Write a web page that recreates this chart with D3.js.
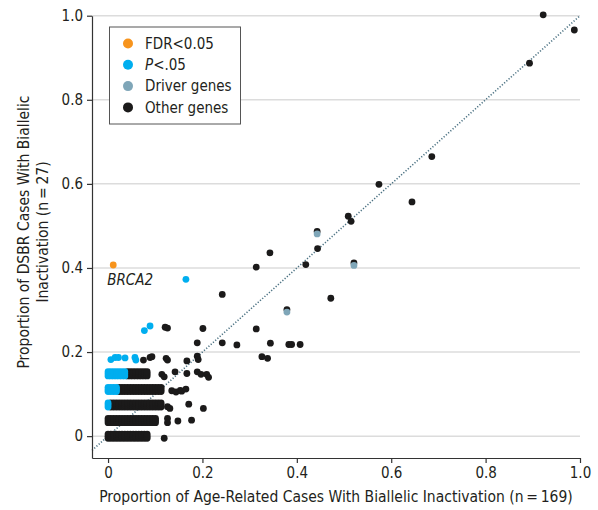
<!DOCTYPE html>
<html>
<head>
<meta charset="utf-8">
<script src="https://cdn.jsdelivr.net/npm/d3@7"></script>
<style>
  body { margin: 0; background: #fff; }
  svg text { font-family: "Liberation Sans Narrow", "DejaVu Sans Condensed", "Roboto Condensed", sans-serif; fill: #231f20; }
</style>
</head>
<body>
<div id="chart"></div>
<script>
// Data: proportions (x = age-related cases, n=169; y = DSBR cases, n=27)
const tickValues = [0, 0.2, 0.4, 0.6, 0.8, 1.0];
const tickLabels = ["0", "0.2", "0.4", "0.6", "0.8", "1.0"];

const legendItems = ["FDR<0.05", "P<.05", "Driver genes", "Other genes"];

// dense band of genes, one row per count of DSBR cases (k/27), x given as range of counts (/169)
const bandBlack = [
  { k: 0, from: 0, to: 14 },
  { k: 1, from: 0, to: 17 },
  { k: 2, from: 1, to: 19 },
  { k: 3, from: 4, to: 19 },
  { k: 4, from: 7, to: 14 }
];
const bandBlue = [
  { k: 2, from: 0, to: 0 },
  { k: 3, from: 0, to: 3 },
  { k: 4, from: 0, to: 6 }
];
const bandJitter = [-0.005, 0, 0.005];

const otherGenes = [
  [0.121, 0.259], [0.126, 0.257], [0.201, 0.256], [0.242, 0.337],
  [0.189, 0.222], [0.242, 0.222], [0.273, 0.217], [0.344, 0.221], [0.383, 0.218], [0.389, 0.218], [0.407, 0.218],
  [0.075, 0.181], [0.089, 0.187], [0.093, 0.189], [0.123, 0.185], [0.126, 0.181], [0.167, 0.179],
  [0.189, 0.190], [0.191, 0.182], [0.326, 0.189], [0.338, 0.185],
  [0.114, 0.147], [0.119, 0.141], [0.142, 0.153], [0.167, 0.149], [0.189, 0.153], [0.197, 0.147], [0.209, 0.147], [0.213, 0.140],
  [0.135, 0.108], [0.144, 0.105], [0.153, 0.109], [0.156, 0.107], [0.165, 0.112],
  [0.126, 0.070], [0.131, 0.066], [0.171, 0.076], [0.202, 0.066],
  [0.126, 0.042], [0.126, 0.032], [0.148, 0.036], [0.177, 0.038],
  [0.119, -0.005],
  [0.574, 0.599], [0.644, 0.557], [0.509, 0.523], [0.515, 0.511], [0.443, 0.487], [0.444, 0.446],
  [0.343, 0.436], [0.314, 0.402], [0.419, 0.408], [0.521, 0.412], [0.472, 0.328], [0.379, 0.301],
  [0.314, 0.255], [0.922, 1.002], [0.988, 0.966], [0.893, 0.887], [0.686, 0.665]
];
const driverGenes = [[0.443, 0.481], [0.521, 0.406], [0.379, 0.295]];
const pGenes = [
  [0.165, 0.373], [0.077, 0.251], [0.089, 0.262],
  [0.006, 0.182], [0.015, 0.187], [0.022, 0.187], [0.036, 0.186], [0.057, 0.187], [0.059, 0.181]
];
const fdrGenes = [[0.011, 0.407]];
const fdrLabels = ["BRCA2"];

const colors = { fdr: "#f7941d", p: "#00aeef", driver: "#7fa6b8", other: "#1b1a1a" };

const W = 598, H = 510;
const svg = d3.select("#chart").append("svg")
  .attr("width", W)
  .attr("height", H);

const x = d3.scaleLinear().domain([-0.034, 1.0]).range([92, 580]);
const y = d3.scaleLinear().domain([-0.052, 1.0]).range([458, 15.7]);

// gridlines
svg.append("g")
  .selectAll("line")
  .data(tickValues)
  .join("line")
  .attr("x1", x.range()[0])
  .attr("x2", x.range()[1])
  .attr("y1", d => y(d))
  .attr("y2", d => y(d))
  .attr("stroke", "#dcdcdc")
  .attr("stroke-width", 1.5);

// diagonal reference line
svg.append("line")
  .attr("x1", x(-0.034)).attr("y1", y(-0.034))
  .attr("x2", x(1.0)).attr("y2", y(1.0))
  .attr("stroke", "#4d7384")
  .attr("stroke-width", 1.6)
  .attr("stroke-dasharray", "1.2 1.8");

// axes
const xAxis = d3.axisBottom(x)
  .tickValues(tickValues)
  .tickFormat((d, i) => tickLabels[i])
  .tickSizeInner(5)
  .tickSizeOuter(0)
  .tickPadding(4);
const gx = svg.append("g")
  .attr("transform", `translate(0, ${y.range()[0]})`)
  .call(xAxis);

const yAxis = d3.axisLeft(y)
  .tickValues(tickValues)
  .tickFormat((d, i) => tickLabels[i])
  .tickSizeInner(5)
  .tickSizeOuter(0)
  .tickPadding(4);
const gy = svg.append("g")
  .attr("transform", `translate(${x.range()[0]}, 0)`)
  .call(yAxis);

[gx, gy].forEach(g => {
  g.select(".domain").attr("stroke", "#333").attr("stroke-width", 1.2);
  g.selectAll(".tick line").attr("stroke", "#333").attr("stroke-width", 1.2);
  g.selectAll(".tick text").style("font-size", "15px").attr("fill", "#231f20");
});

// points
const r = 3.4;
function expandBand(rows) {
  const pts = [];
  rows.forEach(row => {
    for (let c = row.from; c <= row.to; c++) {
      bandJitter.forEach(j => pts.push([c / 169, row.k / 27 + j]));
    }
  });
  return pts;
}

function drawPoints(data, color) {
  svg.append("g")
    .selectAll("circle")
    .data(data)
    .join("circle")
    .attr("cx", d => x(d[0]))
    .attr("cy", d => y(d[1]))
    .attr("r", r)
    .attr("fill", color);
}

drawPoints(expandBand(bandBlack), colors.other);
drawPoints(otherGenes, colors.other);
drawPoints(driverGenes, colors.driver);
drawPoints(expandBand(bandBlue), colors.p);
drawPoints(pGenes, colors.p);
drawPoints(fdrGenes, colors.fdr);

// gene label
svg.append("text")
  .attr("x", x(fdrGenes[0][0]) - 6)
  .attr("y", y(fdrGenes[0][1]) + 20)
  .style("font-size", "15px")
  .style("font-style", "italic")
  .text(fdrLabels[0]);

// legend
const legend = svg.append("g");
legend.append("rect")
  .attr("x", 109.5).attr("y", 27)
  .attr("width", 131).attr("height", 97)
  .attr("fill", "#fff")
  .attr("stroke", "#555")
  .attr("stroke-width", 1);

const legendColors = [colors.fdr, colors.p, colors.driver, colors.other];
const rows = legend.selectAll("g.item")
  .data(legendItems)
  .join("g")
  .attr("class", "item")
  .attr("transform", (d, i) => `translate(128, ${43.5 + i * 21.3})`);
rows.append("circle")
  .attr("r", 5)
  .attr("fill", (d, i) => legendColors[i]);
rows.append("text")
  .attr("x", 17)
  .attr("dy", "0.35em")
  .style("font-size", "15px")
  .each(function (d) {
    const t = d3.select(this);
    if (d.startsWith("P")) {
      t.append("tspan").style("font-style", "italic").text("P");
      t.append("tspan").text(d.slice(1));
    } else {
      t.text(d);
    }
  });

// axis titles
svg.append("text")
  .attr("x", 336)
  .attr("y", 502)
  .attr("text-anchor", "middle")
  .style("font-size", "15.5px")
  .text("Proportion of Age-Related Cases With Biallelic Inactivation (n\u2009=\u2009169)");

const yTitle = svg.append("text")
  .attr("transform", "translate(0, 232) rotate(-90)")
  .attr("text-anchor", "middle")
  .style("font-size", "15.5px");
yTitle.append("tspan").attr("x", 0).attr("y", 29).text("Proportion of DSBR Cases With Biallelic");
yTitle.append("tspan").attr("x", 0).attr("y", 48).text("Inactivation (n\u2009=\u200927)");
</script>
</body>
</html>
